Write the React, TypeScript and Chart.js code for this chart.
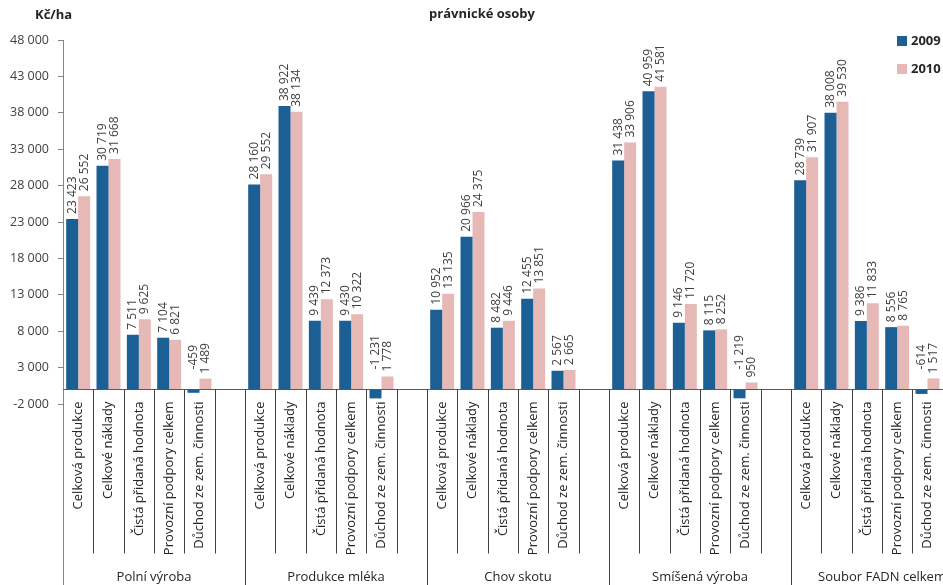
import React, { useEffect, useRef } from "react";
import { Chart, registerables } from "chart.js";

Chart.register(...registerables);

const groups = ["Polní výroba", "Produkce mléka", "Chov skotu", "Smíšená výroba", "Soubor FADN celkem"];
const indicators = [
  "Celková produkce",
  "Celkové náklady",
  "Čistá přidaná hodnota",
  "Provozní podpory celkem",
  "Důchod ze zem. činnosti",
];
const seriesNames = ["2009", "2010"];
const values2009 = [
  23423, 30719, 7511, 7104, -459,
  28160, 38922, 9439, 9430, -1231,
  10952, 20966, 8482, 12455, 2567,
  31438, 40959, 9146, 8115, -1219,
  28739, 38008, 9386, 8556, -614,
];
const values2010 = [
  26552, 31668, 9625, 6821, 1489,
  29552, 38134, 12373, 10322, 1778,
  13135, 24375, 9446, 13851, 2665,
  33906, 41581, 11720, 8252, 950,
  31907, 39530, 11833, 8765, 1517,
];
const yMin = -2000;
const yMax = 48000;
const yStep = 5000;
const titleText = "právnické osoby";
const unitText = "Kč/ha";

const COLORS = ["#1C5F94", "#E6B8B6"];
const FONT = "'Open Sans', sans-serif";

function fmt(v: number): string {
  const s = Math.abs(Math.round(v)).toString().replace(/\B(?=(\d{3})+(?!\d))/g, " ");
  return (v < 0 ? "-" : "") + s;
}

// Build category slots: 5 indicators + 1 empty slot per group
const slotLabels: string[] = [];
const slotGroup: number[] = [];
const data2009: (number | null)[] = [];
const data2010: (number | null)[] = [];
groups.forEach((g, gi) => {
  indicators.forEach((ind, ii) => {
    slotLabels.push(ind);
    slotGroup.push(gi);
    data2009.push(values2009[gi * indicators.length + ii]);
    data2010.push(values2010[gi * indicators.length + ii]);
  });
  slotLabels.push("");
  slotGroup.push(gi);
  data2009.push(null);
  data2010.push(null);
});

const overlayPlugin = {
  id: "overlay",
  afterDatasetsDraw(chart: any) {
    const ctx = chart.ctx;
    const y = chart.scales.y;
    const zeroY = y.getPixelForValue(0);
    ctx.save();
    ctx.font = `12px ${FONT}`;
    ctx.fillStyle = "#404040";
    chart.data.datasets.forEach((ds: any, di: number) => {
      const meta = chart.getDatasetMeta(di);
      meta.data.forEach((el: any, i: number) => {
        const v = ds.data[i];
        if (v === null || v === undefined) return;
        const start = v >= 0 ? el.y - 5 : zeroY - 20;
        ctx.save();
        ctx.translate(el.x, start);
        ctx.rotate(-Math.PI / 2);
        ctx.textAlign = "left";
        ctx.textBaseline = "middle";
        ctx.fillText(fmt(v), 0, 0);
        ctx.restore();
      });
    });
    ctx.restore();
  },
  afterDraw(chart: any) {
    const ctx = chart.ctx;
    const x = chart.scales.x;
    const y = chart.scales.y;
    const area = chart.chartArea;
    const zeroY = Math.round(y.getPixelForValue(0)) + 0.5;
    const slot = x.getPixelForValue(1) - x.getPixelForValue(0);
    const bottom = chart.height;
    ctx.save();

    // extend y axis line downward
    ctx.strokeStyle = "#868686";
    ctx.lineWidth = 1;
    ctx.beginPath();
    ctx.moveTo(Math.round(area.left) + 0.5, area.bottom);
    ctx.lineTo(Math.round(area.left) + 0.5, bottom);
    ctx.stroke();

    // zero axis line
    ctx.strokeStyle = "#595959";
    ctx.beginPath();
    ctx.moveTo(area.left, zeroY);
    ctx.lineTo(area.right, zeroY);
    ctx.stroke();

    // separators
    ctx.strokeStyle = "#404040";
    for (let i = 1; i <= slotLabels.length; i++) {
      const bx = Math.round(x.getPixelForValue(i) - slot / 2) + 0.5;
      const isGroup = i % (indicators.length + 1) === 0;
      ctx.beginPath();
      ctx.moveTo(bx, zeroY);
      ctx.lineTo(bx, isGroup ? bottom : zeroY + 164);
      ctx.stroke();
    }

    // category labels
    ctx.fillStyle = "#262626";
    ctx.font = `13px ${FONT}`;
    slotLabels.forEach((lab, i) => {
      if (!lab) return;
      const cx = x.getPixelForValue(i);
      ctx.save();
      ctx.translate(cx, zeroY + 12);
      ctx.rotate(-Math.PI / 2);
      ctx.textAlign = "right";
      ctx.textBaseline = "middle";
      ctx.fillText(lab, 0, 0);
      ctx.restore();
    });

    // group labels
    const per = indicators.length + 1;
    groups.forEach((g, gi) => {
      const l = x.getPixelForValue(gi * per) - slot / 2;
      const r = x.getPixelForValue(gi * per + per - 1) + slot / 2;
      ctx.textAlign = "center";
      ctx.textBaseline = "middle";
      ctx.fillText(g, (l + r) / 2, 577);
    });

    // title and unit
    ctx.fillStyle = "#262626";
    ctx.font = `bold 13px ${FONT}`;
    ctx.textAlign = "center";
    ctx.textBaseline = "middle";
    ctx.fillText(titleText, 482, 14);
    ctx.textAlign = "left";
    ctx.fillText(unitText, 35, 15);

    // legend
    seriesNames.forEach((name, si) => {
      const ly = 41 + si * 28;
      ctx.fillStyle = COLORS[si];
      ctx.fillRect(897, ly - 5, 10, 10);
      ctx.fillStyle = "#262626";
      ctx.font = `bold 13px ${FONT}`;
      ctx.textAlign = "left";
      ctx.textBaseline = "middle";
      ctx.fillText(name, 911, ly);
    });

    ctx.restore();
  },
};

export default function App() {
  const ref = useRef<HTMLCanvasElement | null>(null);
  useEffect(() => {
    if (!ref.current) return;
    const chart = new Chart(ref.current, {
      type: "bar",
      data: {
        labels: slotLabels,
        datasets: [
          {
            label: seriesNames[0],
            data: data2009,
            backgroundColor: COLORS[0],
            categoryPercentage: 0.79,
            barPercentage: 1,
          },
          {
            label: seriesNames[1],
            data: data2010,
            backgroundColor: COLORS[1],
            categoryPercentage: 0.79,
            barPercentage: 1,
          },
        ],
      },
      options: {
        responsive: false,
        animation: false,
        layout: { padding: { left: 0, right: 7, top: 40, bottom: 181 } },
        plugins: {
          legend: { display: false },
          title: { display: false },
          tooltip: { enabled: false },
        },
        scales: {
          x: {
            display: false,
          },
          y: {
            min: yMin,
            max: yMax,
            afterFit: (scale: any) => {
              scale.width = 63;
            },
            ticks: {
              stepSize: yStep,
              color: "#404040",
              font: { family: "'Open Sans', sans-serif", size: 12.5 },
              padding: 9,
              callback: (v: any) => fmt(Number(v)),
            },
            grid: {
              drawOnChartArea: false,
              drawTicks: true,
              tickLength: 5,
              color: "#868686",
            },
            border: { display: true, color: "#868686" },
          },
        },
      },
      plugins: [overlayPlugin],
    });
    return () => chart.destroy();
  }, []);
  return (
    <div
      style={{
        position: "fixed",
        left: 0,
        top: 0,
        width: 943,
        height: 585,
        overflow: "hidden",
        background: "#fff",
      }}
    >
      <canvas ref={ref} width={980} height={585} style={{ display: "block" }} />
    </div>
  );
}
